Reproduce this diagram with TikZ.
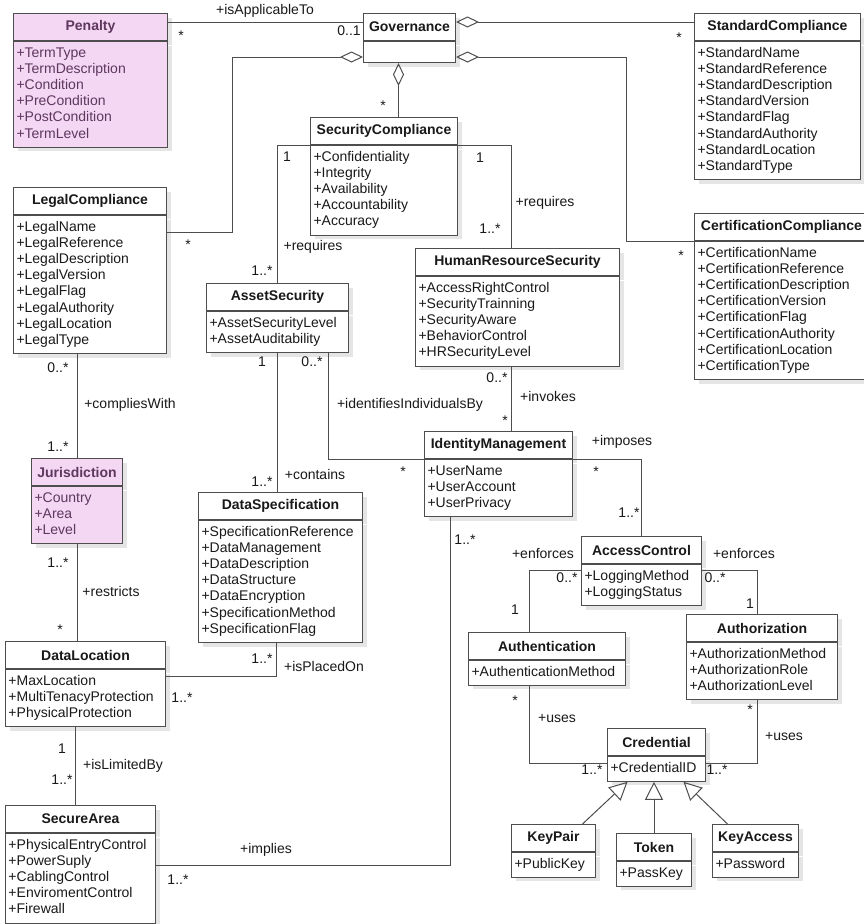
\documentclass[tikz,border=0pt]{standalone}
\usepackage{fontspec}
\setmainfont{Liberation Sans}
\usetikzlibrary{positioning,arrows.meta,shadows}

\definecolor{umlline}{RGB}{78,78,78}
\definecolor{umltext}{RGB}{25,25,25}
\definecolor{pinkfill}{RGB}{243,215,243}
\definecolor{pinktext}{RGB}{95,55,95}

\tikzset{
  cls/.style={draw=umlline, line width=1pt, fill=white, text=umltext, anchor=north west,
    font=\fontsize{14}{16.2}\selectfont\bfseries, align=center, minimum height=27pt,
    inner xsep=3pt, inner ysep=0pt,
    drop shadow={fill=black!10, opacity=1, shadow xshift=4pt, shadow yshift=-4pt}},
  attrs/.style={draw=umlline, line width=1pt, fill=white, text=umltext,
    font=\fontsize{14}{16.2}\selectfont, align=left, inner xsep=3pt, inner ysep=4.3pt,
    execute at begin node=\strut, execute at end node=\strut,
    drop shadow={fill=black!10, opacity=1, shadow xshift=4pt, shadow yshift=-4pt}},
  pink/.style={fill=pinkfill, text=pinktext},
  conn/.style={draw=umlline, line width=1pt},
  agg/.style={conn, {Diamond[open, length=23pt, width=11pt]}-},
  gen/.style={conn, -{Triangle[open, length=18pt, width=18pt]}},
  lbl/.style={font=\fontsize{14}{16.2}\selectfont, text=umltext, inner sep=0pt},
}

\begin{document}
\begin{tikzpicture}[x=1pt, y=-1pt]
    \useasboundingbox (0,0) rectangle (863,924);
    \fill[white] (0,0) rectangle (863,924);

    % classes
    \node[cls, pink, text width=148pt] (pen) at (13,13) {Penalty};
    \node[attrs, pink, text width=148pt, below=0pt of pen] (pen-a) {+TermType\\+TermDescription\\+Condition\\+PreCondition\\+PostCondition\\+TermLevel};

    \node[cls, text width=86pt] (gov) at (363,13) {Governance};
    \node[cls, text width=86pt, minimum height=21pt, below=0pt of gov] (gov-a) {};

    \node[cls, text width=160pt] (std) at (694,13) {StandardCompliance};
    \node[attrs, text width=160pt, below=0pt of std] (std-a) {+StandardName\\+StandardReference\\+StandardDescription\\+StandardVersion\\+StandardFlag\\+StandardAuthority\\+StandardLocation\\+StandardType};

    \node[cls, text width=168pt] (cert) at (694,213) {CertificationCompliance};
    \node[attrs, text width=168pt, below=0pt of cert] (cert-a) {+CertificationName\\+CertificationReference\\+CertificationDescription\\+CertificationVersion\\+CertificationFlag\\+CertificationAuthority\\+CertificationLocation\\+CertificationType};

    \node[cls, text width=141pt] (sec) at (310,117) {SecurityCompliance};
    \node[attrs, text width=141pt, below=0pt of sec] (sec-a) {+Confidentiality\\+Integrity\\+Availability\\+Accountability\\+Accuracy};

    \node[cls, text width=198pt] (hr) at (415,248) {HumanResourceSecurity};
    \node[attrs, text width=198pt, below=0pt of hr] (hr-a) {+AccessRightControl\\+SecurityTrainning\\+SecurityAware\\+BehaviorControl\\+HRSecurityLevel};

    \node[cls, text width=147pt] (leg) at (13,187) {LegalCompliance};
    \node[attrs, text width=147pt, below=0pt of leg] (leg-a) {+LegalName\\+LegalReference\\+LegalDescription\\+LegalVersion\\+LegalFlag\\+LegalAuthority\\+LegalLocation\\+LegalType};

    \node[cls, text width=136pt] (ast) at (206,283) {AssetSecurity};
    \node[attrs, text width=136pt, below=0pt of ast] (ast-a) {+AssetSecurityLevel\\+AssetAuditability};

    \node[cls, pink, text width=85pt] (jur) at (31,458) {Jurisdiction};
    \node[attrs, pink, text width=85pt, below=0pt of jur] (jur-a) {+Country\\+Area\\+Level};

    \node[cls, text width=158pt] (ds) at (198,492) {DataSpecification};
    \node[attrs, text width=158pt, below=0pt of ds] (ds-a) {+SpecificationReference\\+DataManagement\\+DataDescription\\+DataStructure\\+DataEncryption\\+SpecificationMethod\\+SpecificationFlag};

    \node[cls, text width=142pt] (idm) at (424,431) {IdentityManagement};
    \node[attrs, text width=142pt, below=0pt of idm] (idm-a) {+UserName\\+UserAccount\\+UserPrivacy};

    \node[cls, text width=114pt] (ac) at (581,536) {AccessControl};
    \node[attrs, text width=114pt, below=0pt of ac] (ac-a) {+LoggingMethod\\+LoggingStatus};

    \node[cls, text width=151pt] (auth) at (468,632) {Authentication};
    \node[attrs, text width=151pt, below=0pt of auth] (auth-a) {+AuthenticationMethod};

    \node[cls, text width=145pt] (authz) at (686,614) {Authorization};
    \node[attrs, text width=145pt, below=0pt of authz] (authz-a) {+AuthorizationMethod\\+AuthorizationRole\\+AuthorizationLevel};

    \node[cls, text width=92pt] (cred) at (607,728) {Credential};
    \node[attrs, text width=92pt, below=0pt of cred] (cred-a) {+CredentialID};

    \node[cls, text width=154pt] (dl) at (5,641) {DataLocation};
    \node[attrs, text width=154pt, below=0pt of dl] (dl-a) {+MaxLocation\\+MultiTenacyProtection\\+PhysicalProtection};

    \node[cls, text width=144pt] (sa) at (5,805) {SecureArea};
    \node[attrs, text width=144pt, below=0pt of sa] (sa-a) {+PhysicalEntryControl\\+PowerSuply\\+CablingControl\\+EnviromentControl\\+Firewall};

    \node[cls, text width=78pt] (kp) at (511,824) {KeyPair};
    \node[attrs, text width=78pt, below=0pt of kp] (kp-a) {+PublicKey};

    \node[cls, text width=69pt] (tok) at (616,833) {Token};
    \node[attrs, text width=69pt, below=0pt of tok] (tok-a) {+PassKey};

    \node[cls, text width=80pt] (ka) at (712,824) {KeyAccess};
    \node[attrs, text width=80pt, below=0pt of ka] (ka-a) {+Password};

    % governance links
    \draw[conn] ([yshift=5pt]pen.east) -- ([yshift=5pt]gov.west);
    \draw[agg] ([yshift=5pt]gov.east) -- ([yshift=5pt]std.west);
    \draw[agg] ([yshift=-5pt]gov-a.east) -- ++(170,0) |- (cert.south west);
    \draw[agg] ([yshift=-5pt]gov-a.west) -- ++(-131,0) |- ([yshift=-17pt]leg.south east);
    \draw[agg] ([xshift=-11pt]gov-a.south) -- ([xshift=-11pt]gov-a.south |- sec.north);

    % security links
    \draw[conn] (sec.south west) -| (ast.north);
    \draw[conn] (sec.south east) -| ([xshift=-6pt]hr.north);
    \draw[conn] (leg-a.south -| jur.north) -- (jur.north);
    \draw[conn] (jur-a.south) -- (jur-a.south |- dl.north);
    \draw[conn] ([xshift=-5pt]sa.north |- dl-a.south) -- ([xshift=-5pt]sa.north);
    \draw[conn] (ast-a.south) -- (ast-a.south |- ds.north);
    \draw[conn] ([xshift=51pt]ast-a.south) |- (idm.south west);
    \draw[conn] ([xshift=-4pt]ds-a.south) |- ([yshift=-7pt]dl.south east);
    \draw[conn] ([xshift=-6pt]hr-a.south) -- ([xshift=-6pt]hr-a.south |- idm.north);
    \draw[conn] (idm.south east) -| (ac.north);
    \draw[conn] ([yshift=-6pt]ac.south west) -| ([xshift=-18pt]auth.north);
    \draw[conn] ([yshift=-6pt]ac.south east) -| ([xshift=-5pt]authz.north);
    \draw[conn] ([xshift=-18pt]auth-a.south) |- ([yshift=-7pt]cred.south west);
    \draw[conn] ([xshift=-5pt]authz-a.south) |- ([yshift=-7pt]cred.south east);
    \draw[conn] ([xshift=-48pt]idm-a.south) |- ([yshift=13pt]sa-a.east);

    % credential kinds
    \draw[gen] ([xshift=29pt]kp.north) -- ([xshift=-29pt]cred-a.south);
    \draw[gen] (tok.north) -- (tok.north |- cred-a.south);
    \draw[gen] ([xshift=-28pt]ka.north) -- ([xshift=27pt]cred-a.south);

    % role names and multiplicities
    \node[lbl] (isapp) at (265,11) {+isApplicableTo};
    \node[lbl] (m-pen) at (181,36) {*};
    \node[lbl] (m-gov) at (349,31) {0..1};
    \node[lbl] (m-std) at (679,38) {*};
    \node[lbl] (m-cert) at (681,256) {*};
    \node[lbl] (m-sec) at (383,106) {*};
    \node[lbl] (m-leg) at (188,245) {*};
    \node[lbl] (m-sec1) at (287,157) {1};
    \node[lbl] (req1) at (313,247) {+requires};
    \node[lbl] (m-ast1) at (262,271) {1..*};
    \node[lbl] (m-sec2) at (480,158) {1};
    \node[lbl] (req2) at (545,203) {+requires};
    \node[lbl] (m-hr1) at (490,229) {1..*};
    \node[lbl] (m-leg2) at (58,368) {0..*};
    \node[lbl] (compl) at (130,405) {+compliesWith};
    \node[lbl] (m-jur1) at (58,447) {1..*};
    \node[lbl] (m-ast2) at (262,362) {1};
    \node[lbl] (m-ast3) at (312,362) {0..*};
    \node[lbl] (cont) at (315,474) {+contains};
    \node[lbl] (m-ds1) at (262,482) {1..*};
    \node[lbl] (ident) at (410,405) {+identifiesIndividualsBy};
    \node[lbl] (m-idm1) at (403,472) {*};
    \node[lbl] (m-hr2) at (497,378) {0..*};
    \node[lbl] (invk) at (548,396) {+invokes};
    \node[lbl] (m-idm2) at (505,421) {*};
    \node[lbl] (impo) at (622,442) {+imposes};
    \node[lbl] (m-idm3) at (596,472) {*};
    \node[lbl] (m-ac1) at (629,513) {1..*};
    \node[lbl] (m-idm4) at (465,540) {1..*};
    \node[lbl] (enf1) at (543,553) {+enforces};
    \node[lbl] (m-ac2) at (567,578) {0..*};
    \node[lbl] (m-auth1) at (515,610) {1};
    \node[lbl] (enf2) at (744,553) {+enforces};
    \node[lbl] (m-ac3) at (715,578) {0..*};
    \node[lbl] (m-authz1) at (750,604) {1};
    \node[lbl] (m-auth2) at (515,701) {*};
    \node[lbl] (uses1) at (557,719) {+uses};
    \node[lbl] (m-cred1) at (592,770) {1..*};
    \node[lbl] (m-authz2) at (750,710) {*};
    \node[lbl] (uses2) at (784,737) {+uses};
    \node[lbl] (m-cred2) at (717,770) {1..*};
    \node[lbl] (m-jur2) at (58,563) {1..*};
    \node[lbl] (restr) at (111,591) {+restricts};
    \node[lbl] (m-dl1) at (60,630) {*};
    \node[lbl] (m-ds2) at (262,659) {1..*};
    \node[lbl] (plac) at (324,666) {+isPlacedOn};
    \node[lbl] (m-dl2) at (182,698) {1..*};
    \node[lbl] (m-dl3) at (62,749) {1};
    \node[lbl] (limit) at (123,766) {+isLimitedBy};
    \node[lbl] (m-sa1) at (62,780) {1..*};
    \node[lbl] (impl) at (266,850) {+implies};
    \node[lbl] (m-sa2) at (178,880) {1..*};
\end{tikzpicture}
\end{document}
